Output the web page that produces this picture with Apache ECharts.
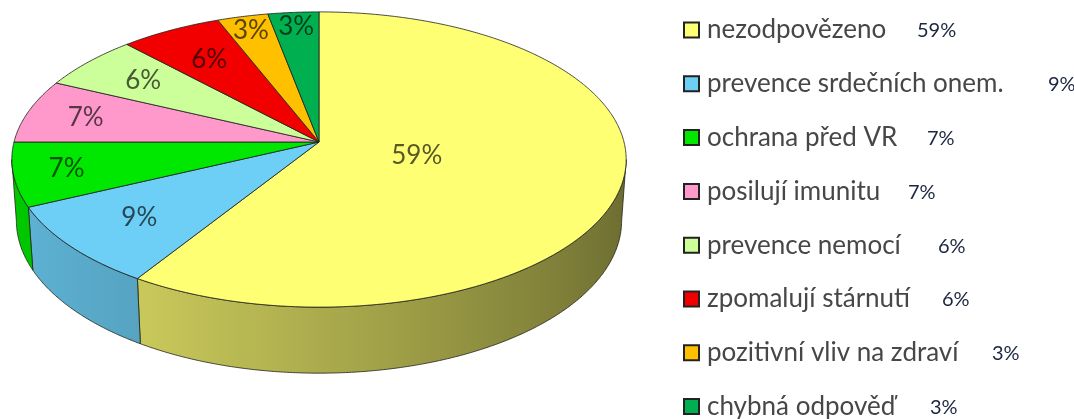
<!DOCTYPE html>
<html>
<head>
<meta charset="utf-8">
<script src="https://cdn.jsdelivr.net/npm/echarts@6/dist/echarts.min.js"></script>
<style>
  html, body { margin: 0; padding: 0; background: #ffffff; }
  #chart { width: 1074px; height: 419px; }
</style>
</head>
<body>
<div id="chart"></div>
<script>
// Survey answers (share of respondents, %)
const categories = [
  'nezodpovězeno',
  'prevence srdečních onem.',
  'ochrana před VR',
  'posilují imunitu',
  'prevence nemocí',
  'zpomalují stárnutí',
  'pozitivní vliv na zdraví',
  'chybná odpověď'
];
const shares = [59, 9, 7, 7, 6, 6, 3, 3];
const sliceColors = ['#FFFF73', '#6DCFF6', '#00E800', '#FF99CC', '#CCFF99', '#F20000', '#FFC000', '#00B050'];

// Perspective camera for the tilted disc (unit radius)
const view = { cx: 319, cy: 142, focal: 2260, dist: 7.41, tilt: 28.5 * Math.PI / 180, depth: 0.23 };
// How far out along each slice's middle the value label sits (fraction of radius)
const labelReach = [0.33, 0.74, 0.83, 0.8, 0.75, 0.72, 0.88, 0.88];
// Legend block
const legendBox = { x: 684, top: 30, step: 53.8, size: 15, textX: 707 };
const legendPctX = [917, 1048, 927, 908, 938, 942, 992, 930];

const DEG = Math.PI / 180;
const cosT = Math.cos(view.tilt), sinT = Math.sin(view.tilt);
const total = shares.reduce((a, b) => a + b, 0);
const starts = [];
shares.reduce((acc, v) => { starts.push(acc); return acc + v; }, 0);

// X to the right, Z away from the viewer, Y up
function project(X, Z, Y) {
  const d = view.dist + Z * cosT - Y * sinT;
  const v = Y * cosT + Z * sinT;
  return [view.cx + view.focal * X / d, view.cy - view.focal * v / d];
}
function rim(theta, Y) { return project(Math.cos(theta), Math.sin(theta), Y); }
function arcPoints(from, to, Y) {
  const n = Math.max(2, Math.ceil(Math.abs(from - to) / (0.5 * DEG)));
  const pts = [];
  for (let k = 0; k <= n; k++) pts.push(rim(from + (to - from) * k / n, Y));
  return pts;
}
// Outer wall is visible between the two silhouette angles
const sil = Math.asin(cosT / view.dist);
const frontHi = -sil, frontLo = -Math.PI + sil;

function hexToRgb(hex) {
  const n = parseInt(hex.slice(1), 16);
  return [(n >> 16) & 255, (n >> 8) & 255, n & 255];
}
function scaleColor(hex, f) {
  const c = hexToRgb(hex).map(x => Math.max(0, Math.min(255, Math.round(x * f))));
  return 'rgb(' + c.join(',') + ')';
}
// light falls from the front-left
function wallShade(theta) { return 0.634 + 0.227 * Math.cos(theta + 170 * DEG); }

function renderSlice(params, api) {
  const i = params.dataIndex;
  const v = api.value(0);
  const a0 = Math.PI / 2 - 2 * Math.PI * starts[i] / total;
  const a1 = a0 - 2 * Math.PI * v / total;
  const color = sliceColors[i];
  const children = [];

  // side wall
  [-2 * Math.PI, 0, 2 * Math.PI].forEach(shift => {
    const hi = Math.min(a0 + shift, frontHi);
    const lo = Math.max(a1 + shift, frontLo);
    if (hi <= lo) return;
    const top = arcPoints(hi, lo, 0);
    const bottom = arcPoints(lo, hi, -view.depth);
    const pts = top.concat(bottom);
    let xmin = Infinity, xmax = -Infinity;
    pts.forEach(p => { xmin = Math.min(xmin, p[0]); xmax = Math.max(xmax, p[0]); });
    const stops = [];
    const ns = 10;
    let last = 0;
    for (let k = 0; k <= ns; k++) {
      const t = lo + (hi - lo) * k / ns;
      let off = (rim(t, 0)[0] - xmin) / Math.max(1, xmax - xmin);
      off = Math.max(last, Math.min(1, off));
      last = off;
      stops.push({ offset: off, color: scaleColor(color, wallShade(t)) });
    }
    children.push({
      type: 'polygon', z2: 1,
      shape: { points: pts },
      style: {
        fill: new echarts.graphic.LinearGradient(xmin, 0, xmax, 0, stops, true),
        stroke: 'rgba(35,35,25,0.8)', lineWidth: 1, lineJoin: 'round'
      }
    });
  });

  // top face
  const face = [project(0, 0, 0)].concat(arcPoints(a0, a1, 0));
  children.push({
    type: 'polygon', z2: 10,
    shape: { points: face },
    style: { fill: color, stroke: 'rgba(30,30,30,0.8)', lineWidth: 1, lineJoin: 'round' }
  });

  // value label on the slice
  const mid = (a0 + a1) / 2, r = labelReach[i];
  const lp = project(r * Math.cos(mid), r * Math.sin(mid), 0);
  children.push({
    type: 'text', z2: 20,
    style: {
      x: lp[0], y: lp[1], text: v + '%', align: 'center', verticalAlign: 'middle',
      fill: scaleColor(color, 0.35), font: '26px Lato'
    }
  });

  // legend row
  const rowY = legendBox.top + i * legendBox.step;
  children.push({
    type: 'rect', z2: 20,
    shape: { x: legendBox.x, y: rowY - legendBox.size / 2, width: legendBox.size, height: legendBox.size },
    style: { fill: color, stroke: '#222222', lineWidth: 2 }
  });
  children.push({
    type: 'text', z2: 20,
    style: {
      x: legendBox.textX, y: rowY, verticalAlign: 'middle', align: 'left',
      text: categories[i], font: '26px Lato', fill: '#474747'
    }
  });
  children.push({
    type: 'text', z2: 20,
    style: {
      x: legendPctX[i], y: rowY + 1, verticalAlign: 'middle', align: 'left',
      text: v + '%', font: '20px Lato', fill: '#1c2640'
    }
  });

  return { type: 'group', children };
}

const chart = echarts.init(document.getElementById('chart'), null, { renderer: 'canvas' });
chart.setOption({
  backgroundColor: '#ffffff',
  animation: false,
  series: [{
    type: 'custom',
    coordinateSystem: 'none',
    silent: true,
    renderItem: renderSlice,
    data: shares.map((v, i) => ({ name: categories[i], value: [v] }))
  }]
});
</script>
</body>
</html>
